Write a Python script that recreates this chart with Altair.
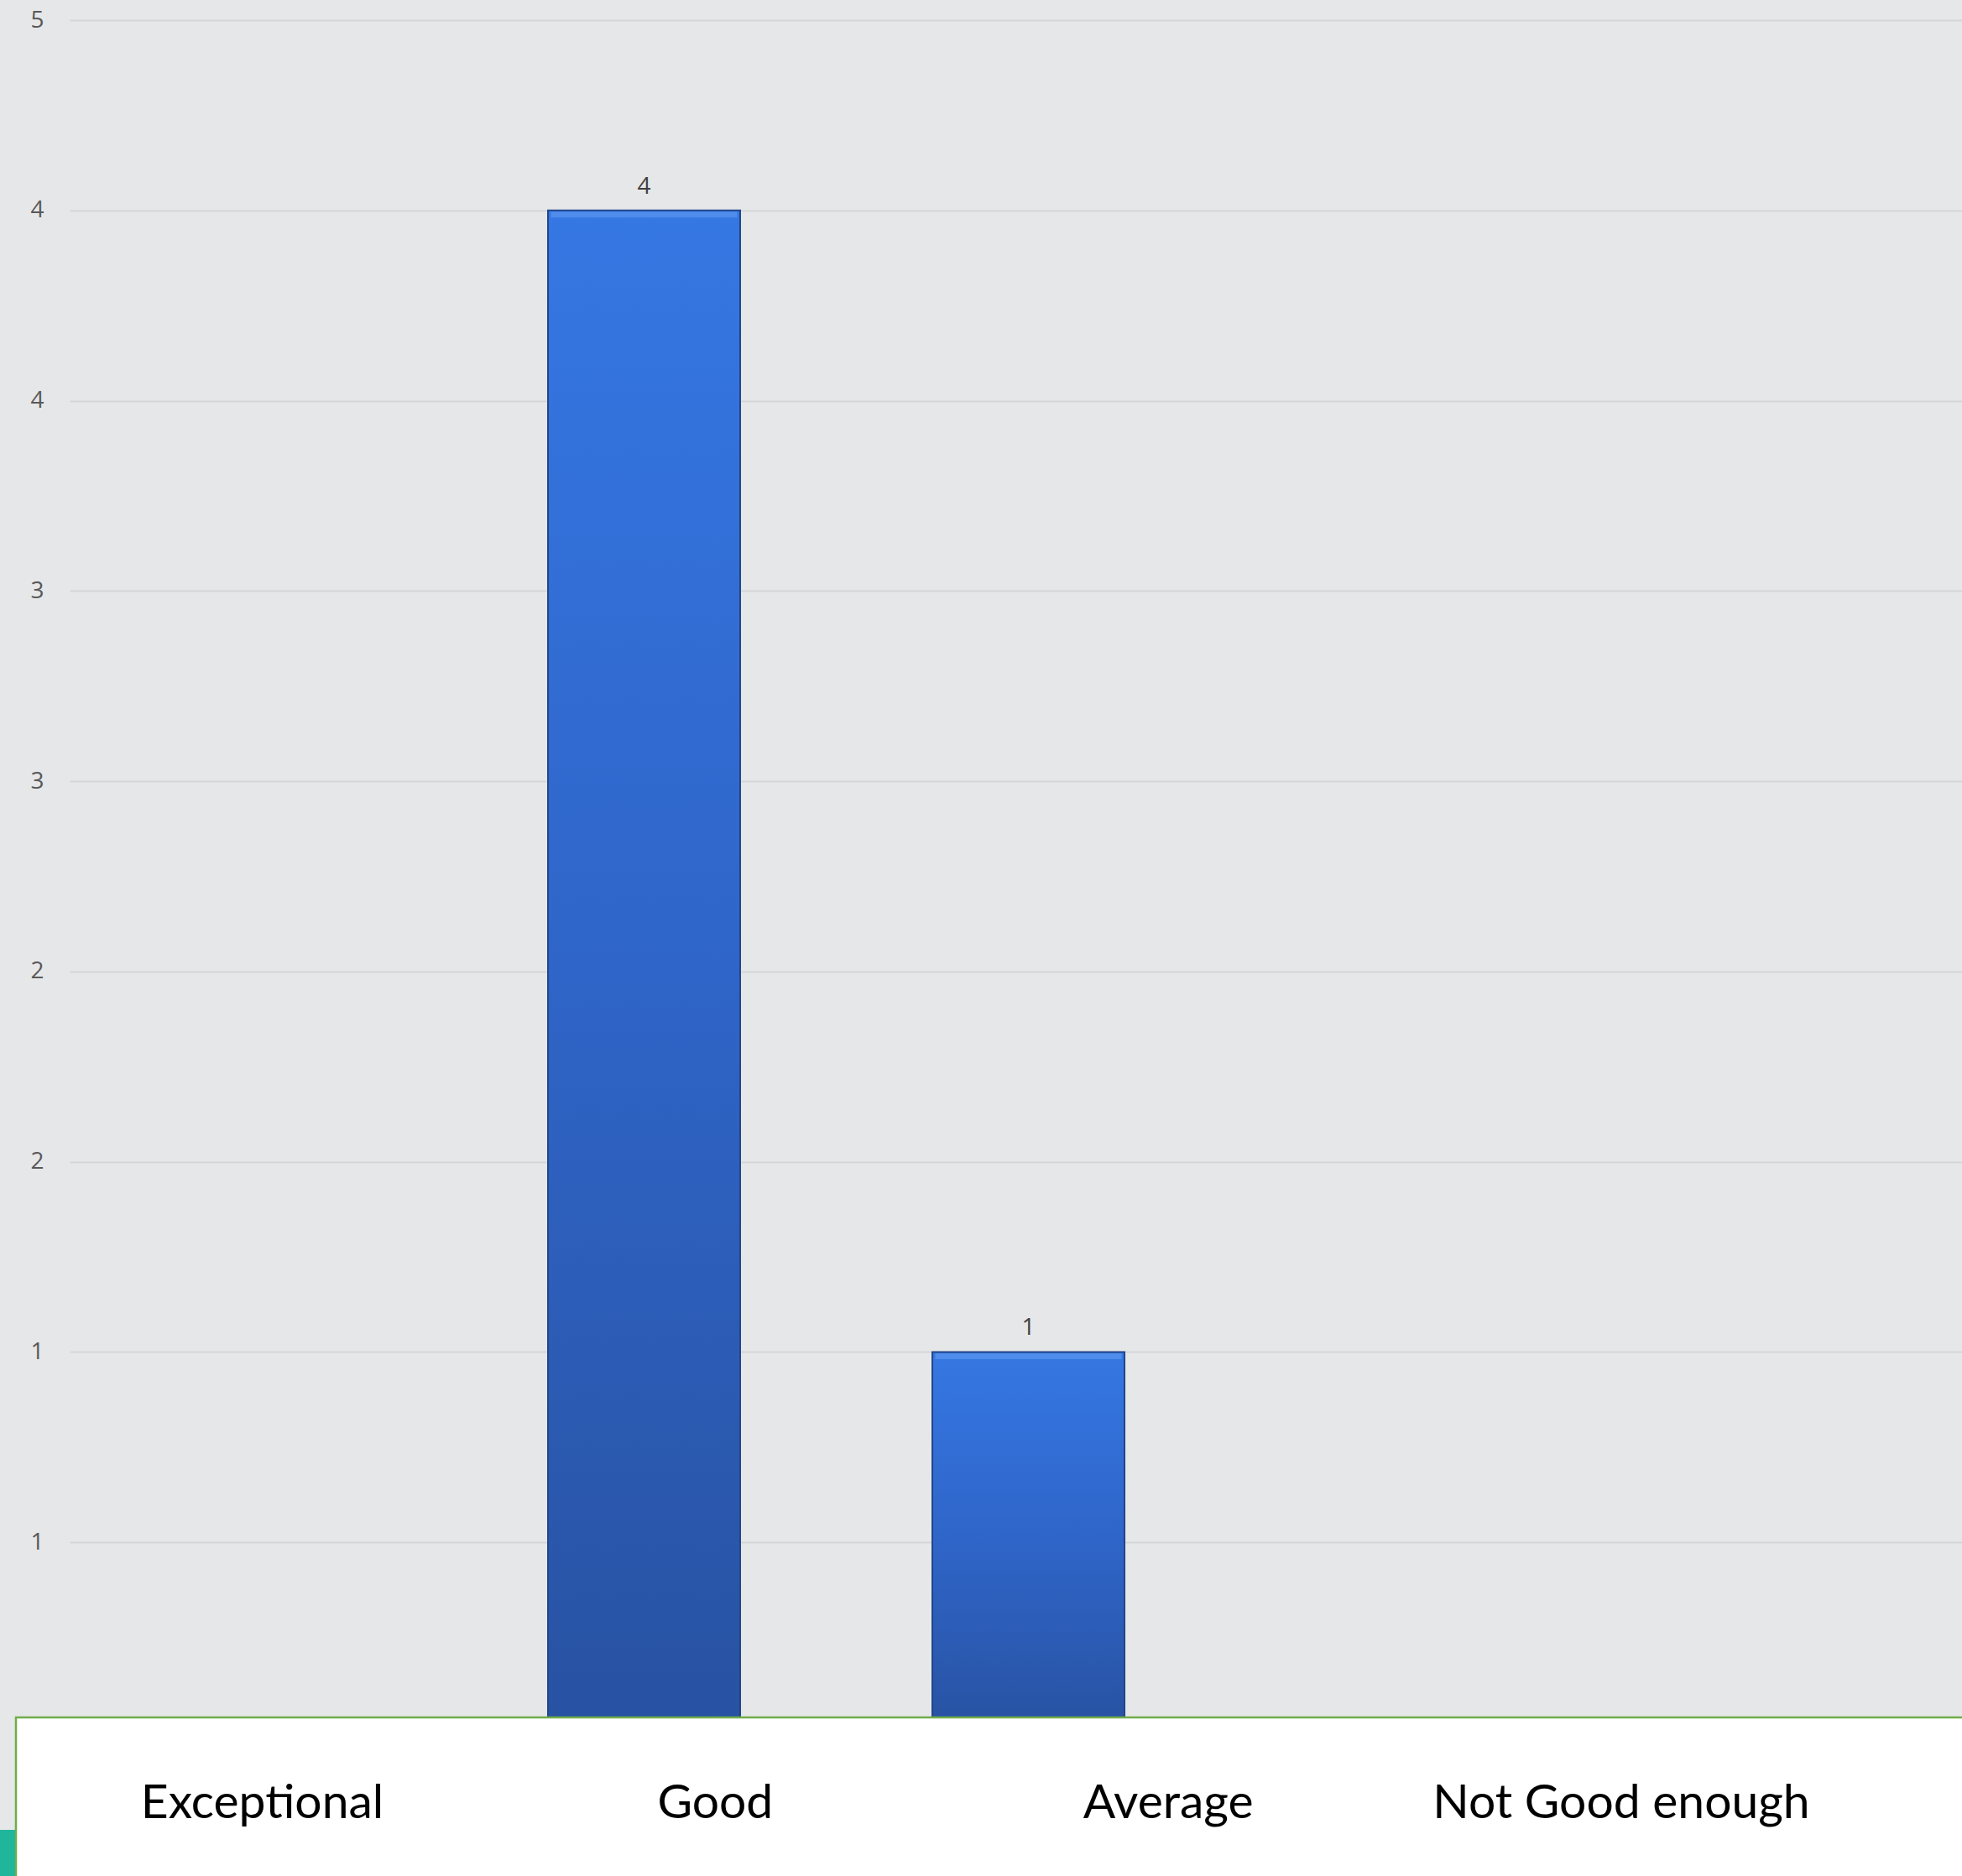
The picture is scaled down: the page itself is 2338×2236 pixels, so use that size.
import altair as alt
import pandas as pd

# Survey ratings and how many responses each received
categories = ["Exceptional", "Good", "Average", "Not Good enough"]
counts = [0, 4, 1, 0]
y_ticks = [0.5, 1, 1.5, 2, 2.5, 3, 3.5, 4, 4.5]

df = pd.DataFrame({"rating": categories, "count": counts})
panel = pd.DataFrame({"k": [0]})

BG = "#e6e7e9"

bar_gradient = alt.Gradient(
    gradient="linear",
    stops=[
        alt.GradientStop(color="#3577e3", offset=0),
        alt.GradientStop(color="#2f65c8", offset=0.5),
        alt.GradientStop(color="#2852a2", offset=1),
    ],
    x1=0, x2=0, y1=0, y2=1,
)

# bands of equal width, shifted toward the left of a wide plot area
x_bar = alt.X(
    "rating:N",
    sort=categories,
    axis=None,
    scale=alt.Scale(
        type="band", domain=categories, paddingInner=0.5, paddingOuter=0.7118, align=0.1718
    ),
)
y_bar = alt.Y(
    "count:Q",
    scale=alt.Scale(domain=[0, 4.5], nice=False, zero=True),
    axis=alt.Axis(
        values=y_ticks,
        format=".0f",
        title=None,
        domain=False,
        ticks=False,
        labelFont="Open Sans",
        labelFontSize=28,
        labelColor="#595959",
        labelPadding=31,
        gridColor="#d5d6d8",
        gridWidth=2,
    ),
)

nonzero = alt.Chart(df).transform_filter("datum.count > 0")

bars = nonzero.mark_bar(color=bar_gradient, stroke="#23468a", strokeWidth=2).encode(x=x_bar, y=y_bar)

# light bevel along the top edge of each bar
bevel = nonzero.mark_tick(
    orient="horizontal", size=222, thickness=7, yOffset=5, color="#5b96ef"
).encode(x=x_bar, y=alt.Y("count:Q"))

values = nonzero.mark_text(
    dy=-20, baseline="alphabetic", font="Open Sans", fontSize=28, color="#404040"
).encode(x=x_bar, y=alt.Y("count:Q"), text=alt.Text("count:Q"))

plot = alt.layer(bars, bevel, values)

# white caption panel along the bottom with a green outline
caption_box = alt.Chart(panel).mark_rect(
    fill="white", stroke="#70ad47", strokeWidth=2.5
).encode(x=alt.value(-64), x2=alt.value(2290), y=alt.value(2023), y2=alt.value(2240))

teal_block = alt.Chart(panel).mark_rect(fill="#1fb69b").encode(
    x=alt.value(-90), x2=alt.value(-65), y=alt.value(2157), y2=alt.value(2240)
)

captions = alt.Chart(df).mark_text(
    font="Lato", fontSize=57, color="#000000", baseline="alphabetic"
).encode(
    x=alt.X(
        "rating:N",
        sort=categories,
        axis=None,
        scale=alt.Scale(type="point", domain=categories, range=[229.5, 1849], padding=0),
    ),
    y=alt.value(2143),
    text="rating:N",
)

chart = (
    alt.layer(plot, caption_box, teal_block, captions)
    .resolve_scale(x="independent")
    .properties(
        width=2255,
        height=2041,
        autosize=alt.AutoSizeParams(type="none"),
        padding={"left": 83, "top": 24, "right": 0, "bottom": 171},
        background=BG,
    )
    .configure_view(stroke=None)
)

chart.save("out.html", embed_options={"renderer": "svg", "actions": False})
